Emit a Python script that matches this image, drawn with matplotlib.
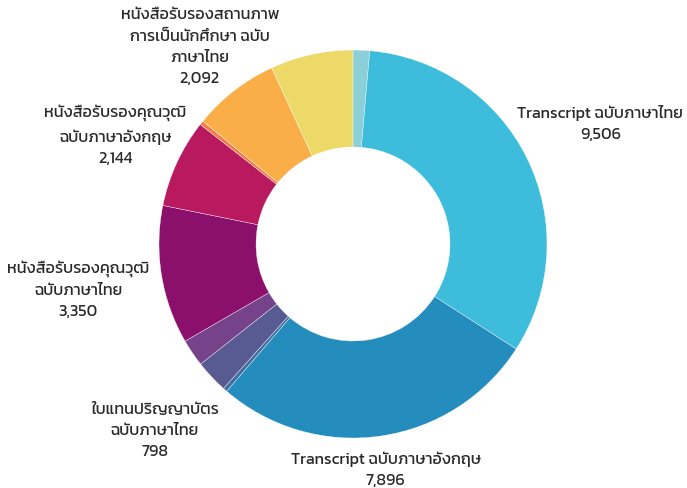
import matplotlib
matplotlib.use("Agg")
import matplotlib.pyplot as plt
import numpy as np

plt.rcParams['font.family'] = ['Kanit', 'DejaVu Sans']

# slices clockwise from 12 o'clock
names = ["", "Transcript ฉบับภาษาไทย", "Transcript ฉบับภาษาอังกฤษ", "",
         "ใบแทนปริญญาบัตร\nฉบับภาษาไทย", "",
         "หนังสือรับรองคุณวุฒิ\nฉบับภาษาไทย", "หนังสือรับรองคุณวุฒิ\nฉบับภาษาอังกฤษ",
         "", "หนังสือรับรองสถานภาพ\nการเป็นนักศึกษา ฉบับ\nภาษาไทย", ""]
values = [400, 9506, 7896, 100, 798, 660, 3350, 2144, 100, 2092, 2000]
colors = ["#8bd0d8", "#3dbcdc", "#258cbe", "#3e6f9e", "#585a92", "#76438a",
          "#8b106b", "#b91a5f", "#f27d4a", "#f9ae47", "#ecd967"]

# label distance from centre (in outer radii)
label_r = {1: 1.42, 2: 1.17, 4: 1.40, 6: 1.435, 7: 1.35, 9: 1.29}

W, H = 687, 489
cx, cy, R = 353, 245, 194

fig = plt.figure(figsize=(W / 100, H / 100), dpi=100)
ax = fig.add_axes([0, 0, 1, 1])

wedges, _ = ax.pie(values, colors=colors, startangle=90, counterclock=False,
                   radius=1, wedgeprops=dict(width=0.5, edgecolor='white', linewidth=0.25))

# pie() resets the limits, so set them afterwards
ax.set_xlim(-cx / R, (W - cx) / R)
ax.set_ylim(-(H - cy) / R, cy / R)
ax.set_aspect('equal')
ax.axis('off')

total = float(sum(values))
start = 0.0
for i, v in enumerate(values):
    mid = start + v / total * 360 / 2
    start += v / total * 360
    if i not in label_r:
        continue
    a = np.deg2rad(mid)
    r = label_r[i]
    x, y = r * np.sin(a), r * np.cos(a)
    ax.text(x, y, names[i] + "\n" + format(values[i], ","), ha='center', va='center',
            fontsize=11.6, fontweight='normal', color='#2a2a2a', linespacing=1.65)

fig.savefig("out.png", dpi=100)
